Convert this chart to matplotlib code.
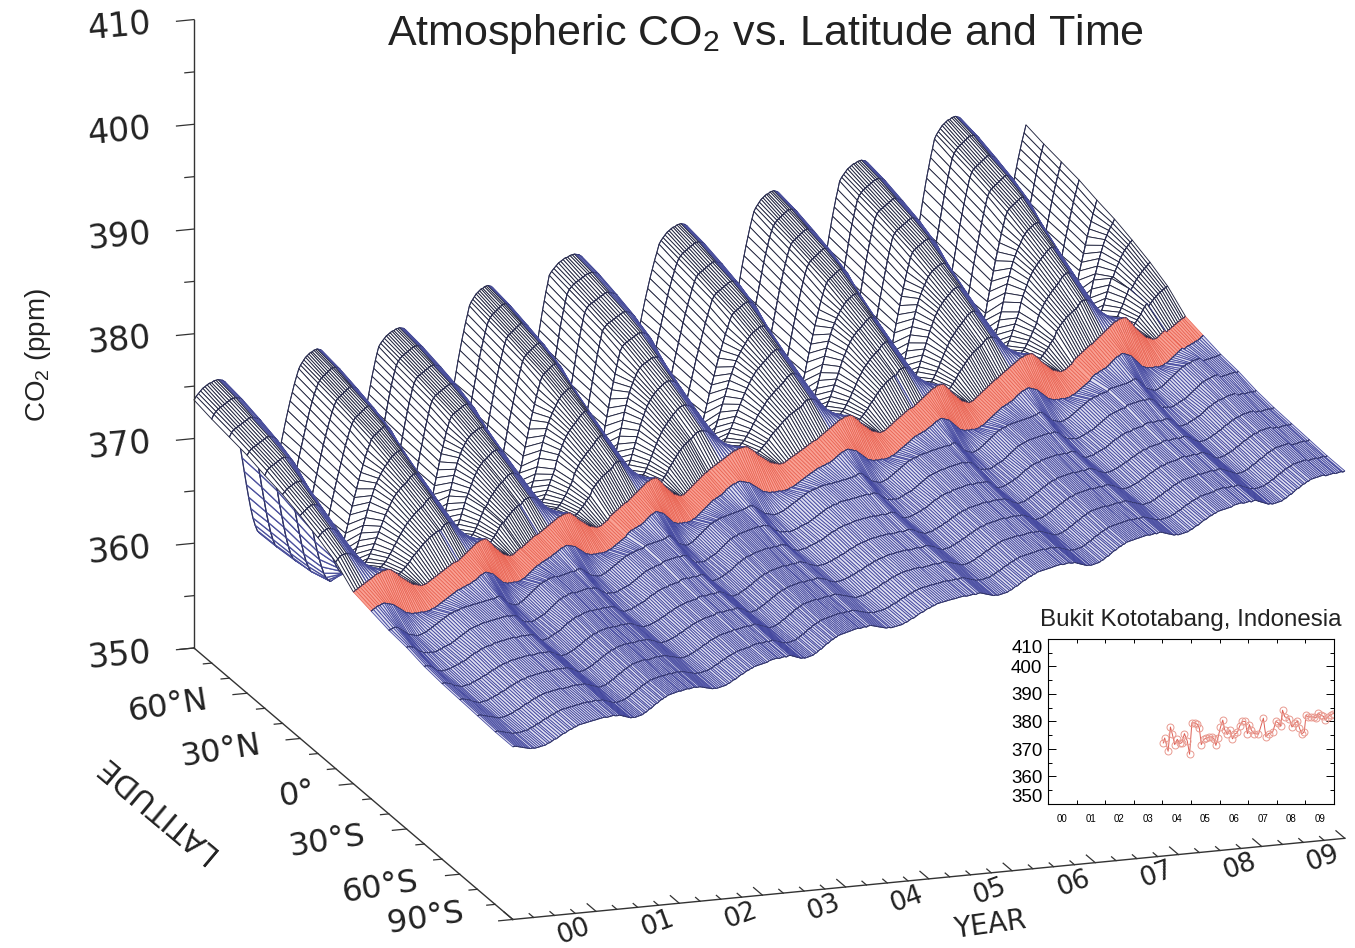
import numpy as np
import matplotlib
matplotlib.use('Agg')
import matplotlib.pyplot as plt
from matplotlib.colors import to_rgba
from mpl_toolkits.mplot3d import proj3d
from mpl_toolkits.mplot3d.art3d import Poly3DCollection

plt.rcParams['font.family'] = ['Liberation Sans', 'DejaVu Sans']
plt.rcParams['mathtext.fontset'] = 'custom'
plt.rcParams['mathtext.rm'] = 'Liberation Sans'
plt.rcParams['mathtext.default'] = 'regular'

latitudes = [90, 80, 70, 60, 50, 40, 30, 20, 10, 0, -10, -20, -30, -40, -50, -60, -70, -80, -90]

# the surface is read as: south pole level at the start of each seasonal cycle,
# the rise inside a cycle, and the height of each latitude above that (48 samples per cycle)
cycle_level = [366.0, 368.0, 370.0, 372.1, 374.2, 376.3, 378.3, 380.4, 382.5, 384.6]
# where each cycle starts on the year axis, ridges are not evenly spaced
cycle_start = [0, 1.26, 2.22, 3.31, 4.27, 5.59, 6.73, 7.76, 8.90, 10.0]
cycle_scale = [0.96, 0.96, 0.88, 1.0, 1.01, 0.99, 1.02, 1.02, 1.15, 0.95]
cycle_rise = [0.00, 0.04, 0.09, 0.13, 0.17, 0.21, 0.26, 0.30, 0.34, 0.38, 0.43, 0.47, 0.51, 0.56, 0.60, 0.64,
              0.68, 0.73, 0.77, 0.81, 0.85, 0.90, 0.94, 0.98, 1.03, 1.07, 1.11, 1.15, 1.20, 1.24, 1.28, 1.32,
              1.37, 1.41, 1.45, 1.50, 1.54, 1.58, 1.62, 1.67, 1.71, 1.75, 1.79, 1.84, 1.88, 1.92, 1.97, 2.01]

season = [
    [8.0, 8.3, 8.5, 8.7, 8.9, 9.0, 9.1, 9.2, 9.2, 9.3, 9.3, 9.3, 9.2, 9.1, 8.9, 8.5, 7.9, 7.1, 6.1, 4.9, 3.6, 2.2, 0.8, -0.6, -2.0, -3.3, -4.5, -5.5, -6.3, -6.9, -7.2, -7.3, -6.7, -5.8, -4.8, -3.8, -2.8, -1.8, -0.8, 0.2, 1.2, 2.2, 3.2, 4.1, 5.0, 5.8, 6.6, 7.3],
    [7.6, 8.0, 8.2, 8.4, 8.5, 8.6, 8.7, 8.8, 8.9, 9.0, 9.0, 9.0, 8.9, 8.8, 8.6, 8.2, 7.6, 6.8, 5.8, 4.7, 3.4, 2.1, 0.7, -0.7, -2.0, -3.3, -4.4, -5.4, -6.2, -6.8, -7.1, -7.2, -6.6, -5.7, -4.7, -3.7, -2.7, -1.7, -0.8, 0.2, 1.2, 2.1, 3.0, 3.9, 4.8, 5.6, 6.3, 7.0],
    [7.3, 7.7, 7.9, 8.0, 8.1, 8.2, 8.3, 8.4, 8.5, 8.6, 8.6, 8.5, 8.4, 8.3, 8.1, 7.7, 7.1, 6.4, 5.5, 4.4, 3.1, 1.8, 0.5, -0.9, -2.1, -3.3, -4.4, -5.3, -6.1, -6.6, -6.9, -7.1, -6.5, -5.6, -4.6, -3.7, -2.8, -1.8, -0.9, 0.1, 1.0, 1.9, 2.8, 3.7, 4.5, 5.3, 6.0, 6.7],
    [7.0, 7.3, 7.5, 7.6, 7.7, 7.8, 7.9, 8.0, 8.1, 8.2, 8.2, 8.1, 8.0, 7.8, 7.5, 7.1, 6.5, 5.7, 4.8, 3.7, 2.5, 1.2, 0.0, -1.2, -2.4, -3.5, -4.5, -5.3, -5.9, -6.4, -6.6, -6.7, -6.2, -5.4, -4.5, -3.6, -2.7, -1.8, -0.9, 0.0, 0.9, 1.8, 2.6, 3.4, 4.2, 5.0, 5.7, 6.4],
    [6.5, 6.9, 7.1, 7.2, 7.3, 7.4, 7.5, 7.6, 7.7, 7.7, 7.6, 7.5, 7.3, 7.0, 6.6, 6.1, 5.4, 4.6, 3.7, 2.7, 1.7, 0.6, -0.5, -1.6, -2.6, -3.5, -4.3, -5.0, -5.5, -5.8, -6.0, -5.9, -5.6, -5.0, -4.2, -3.4, -2.6, -1.7, -0.9, 0.0, 0.8, 1.6, 2.4, 3.2, 3.9, 4.6, 5.3, 5.9],
    [6.1, 6.3, 6.5, 6.6, 6.7, 6.8, 6.9, 6.9, 6.9, 6.8, 6.6, 6.3, 5.9, 5.4, 4.9, 4.3, 3.6, 2.9, 2.2, 1.4, 0.6, -0.2, -1.0, -1.7, -2.3, -2.8, -3.2, -3.5, -3.6, -3.6, -3.4, -3.1, -2.6, -2.0, -1.4, -0.8, -0.1, 0.6, 1.3, 2.0, 2.7, 3.3, 3.9, 4.4, 4.8, 5.2, 5.5, 5.8],
    [5.5, 5.7, 5.8, 6.0, 6.1, 6.2, 6.2, 6.1, 6.0, 5.8, 5.5, 5.2, 4.8, 4.3, 3.8, 3.3, 2.8, 2.2, 1.6, 1.1, 0.6, 0.1, -0.3, -0.7, -1.0, -1.2, -1.4, -1.5, -1.4, -1.3, -1.1, -0.8, -0.4, 0.0, 0.5, 1.0, 1.5, 2.0, 2.5, 3.0, 3.4, 3.8, 4.2, 4.5, 4.8, 5.0, 5.2, 5.4],
    [4.8, 5.0, 5.2, 5.3, 5.4, 5.4, 5.3, 5.2, 5.0, 4.8, 4.5, 4.2, 3.8, 3.4, 3.0, 2.6, 2.3, 1.9, 1.6, 1.3, 1.0, 0.7, 0.4, 0.2, 0.0, -0.1, -0.2, -0.2, -0.1, 0.0, 0.2, 0.4, 0.7, 1.0, 1.3, 1.7, 2.0, 2.4, 2.7, 3.0, 3.3, 3.6, 3.8, 4.0, 4.2, 4.4, 4.5, 4.7],
    [3.9, 4.1, 4.3, 4.4, 4.4, 4.4, 4.3, 4.2, 4.0, 3.8, 3.6, 3.3, 3.1, 2.8, 2.6, 2.3, 2.1, 1.8, 1.6, 1.4, 1.2, 1.0, 0.9, 0.8, 0.7, 0.7, 0.6, 0.6, 0.7, 0.8, 0.9, 1.1, 1.3, 1.5, 1.7, 2.0, 2.2, 2.4, 2.6, 2.8, 3.0, 3.2, 3.3, 3.5, 3.6, 3.7, 3.8, 3.9],
    [2.4, 2.5, 2.6, 2.7, 2.8, 2.9, 3.0, 3.1, 3.2, 3.3, 3.4, 3.5, 3.5, 3.6, 3.6, 3.6, 3.6, 3.5, 3.3, 3.1, 2.9, 2.6, 2.4, 2.2, 2.0, 1.8, 1.6, 1.4, 1.3, 1.2, 1.1, 1.0, 1.0, 1.0, 1.1, 1.2, 1.3, 1.4, 1.5, 1.6, 1.7, 1.8, 1.9, 2.0, 2.1, 2.2, 2.3, 2.3],
    [2.0, 2.1, 2.2, 2.3, 2.3, 2.4, 2.4, 2.3, 2.2, 2.1, 2.0, 1.8, 1.6, 1.4, 1.2, 1.0, 0.8, 0.7, 0.6, 0.5, 0.5, 0.4, 0.4, 0.4, 0.3, 0.3, 0.3, 0.3, 0.4, 0.4, 0.5, 0.6, 0.7, 0.8, 0.9, 1.0, 1.1, 1.2, 1.3, 1.4, 1.5, 1.5, 1.6, 1.6, 1.7, 1.7, 1.8, 1.9],
    [1.6, 1.6, 1.7, 1.7, 1.6, 1.4, 1.2, 1.0, 0.8, 0.6, 0.5, 0.4, 0.3, 0.2, 0.2, 0.2, 0.3, 0.3, 0.4, 0.5, 0.6, 0.7, 0.8, 0.9, 1.0, 1.1, 1.2, 1.3, 1.4, 1.4, 1.5, 1.5, 1.5, 1.6, 1.6, 1.6, 1.6, 1.6, 1.6, 1.6, 1.6, 1.6, 1.6, 1.6, 1.6, 1.6, 1.6, 1.6],
    [1.4, 1.4, 1.3, 1.2, 1.0, 0.8, 0.6, 0.5, 0.3, 0.3, 0.2, 0.2, 0.1, 0.1, 0.1, 0.2, 0.2, 0.3, 0.3, 0.4, 0.4, 0.5, 0.6, 0.7, 0.8, 0.9, 1.0, 1.1, 1.2, 1.3, 1.3, 1.4, 1.4, 1.4, 1.5, 1.5, 1.5, 1.5, 1.5, 1.5, 1.5, 1.5, 1.5, 1.5, 1.5, 1.5, 1.5, 1.4],
    [1.0, 1.0, 0.9, 0.8, 0.6, 0.4, 0.2, 0.1, 0.0, 0.0, 0.0, 0.0, 0.0, 0.1, 0.1, 0.2, 0.2, 0.3, 0.3, 0.4, 0.5, 0.6, 0.7, 0.8, 0.8, 0.9, 1.0, 1.0, 1.1, 1.1, 1.1, 1.1, 1.2, 1.2, 1.2, 1.2, 1.2, 1.2, 1.2, 1.2, 1.2, 1.2, 1.1, 1.1, 1.1, 1.1, 1.0, 1.0],
    [0.8, 0.8, 0.7, 0.6, 0.5, 0.3, 0.2, 0.1, 0.0, -0.1, -0.1, -0.1, -0.1, -0.1, 0.0, 0.0, 0.1, 0.1, 0.2, 0.3, 0.3, 0.4, 0.5, 0.6, 0.6, 0.7, 0.8, 0.8, 0.9, 0.9, 0.9, 1.0, 1.0, 1.0, 1.0, 1.0, 1.0, 1.0, 1.0, 1.0, 1.0, 0.9, 0.9, 0.9, 0.9, 0.9, 0.8, 0.8],
    [0.7, 0.7, 0.6, 0.5, 0.4, 0.3, 0.1, 0.0, -0.1, -0.2, -0.2, -0.2, -0.2, -0.2, -0.1, -0.1, 0.0, 0.0, 0.1, 0.2, 0.2, 0.3, 0.4, 0.5, 0.5, 0.6, 0.7, 0.7, 0.8, 0.8, 0.8, 0.9, 0.9, 0.9, 0.9, 0.9, 0.9, 0.9, 0.9, 0.9, 0.9, 0.8, 0.8, 0.8, 0.8, 0.8, 0.7, 0.7],
    [0.6, 0.6, 0.5, 0.4, 0.3, 0.2, 0.1, 0.0, -0.1, -0.2, -0.3, -0.3, -0.3, -0.3, -0.3, -0.2, -0.2, -0.1, 0.0, 0.0, 0.1, 0.2, 0.3, 0.3, 0.4, 0.5, 0.6, 0.6, 0.7, 0.7, 0.8, 0.8, 0.8, 0.8, 0.8, 0.8, 0.8, 0.8, 0.8, 0.7, 0.7, 0.7, 0.7, 0.7, 0.7, 0.7, 0.6, 0.6],
    [0.5, 0.5, 0.4, 0.3, 0.2, 0.1, 0.0, -0.1, -0.2, -0.2, -0.3, -0.3, -0.3, -0.3, -0.3, -0.3, -0.2, -0.2, -0.1, 0.0, 0.0, 0.1, 0.2, 0.3, 0.3, 0.4, 0.5, 0.5, 0.6, 0.6, 0.7, 0.7, 0.7, 0.7, 0.7, 0.7, 0.7, 0.7, 0.7, 0.7, 0.7, 0.7, 0.7, 0.6, 0.6, 0.6, 0.6, 0.5],
    [0.5, 0.5, 0.4, 0.3, 0.2, 0.1, 0.0, -0.1, -0.2, -0.2, -0.3, -0.3, -0.3, -0.3, -0.3, -0.3, -0.2, -0.2, -0.1, 0.0, 0.0, 0.1, 0.2, 0.3, 0.3, 0.4, 0.5, 0.5, 0.6, 0.6, 0.7, 0.7, 0.7, 0.7, 0.7, 0.7, 0.7, 0.7, 0.7, 0.7, 0.7, 0.7, 0.7, 0.6, 0.6, 0.6, 0.6, 0.5],
]

year_labels = ['00', '01', '02', '03', '04', '05', '06', '07', '08', '09']
lat_ticks = [(60, '60°N', -0.95, 349.5), (30, '30°N', -0.95, 349.5), (0, '0°', -0.67, 349.5), (-30, '30°S', -0.95, 349.5),
             (-60, '60°S', -0.95, 349.5), (-90, '90°S', -1.05, 350.9)]

inset_years = [4.03, 4.08, 4.20, 4.28, 4.35, 4.43, 4.52, 4.61, 4.68, 4.77, 4.87, 4.95, 5.03, 5.13, 5.22, 5.29, 5.36,
               5.45, 5.54, 5.64, 5.73, 5.81, 5.87, 5.94, 6.03, 6.11, 6.18, 6.27, 6.36, 6.45, 6.52, 6.62, 6.71, 6.80,
               6.90, 6.97, 7.04, 7.11, 7.20, 7.36, 7.53, 7.62, 7.71, 7.85, 7.97, 8.05, 8.13, 8.20, 8.28, 8.44, 8.53,
               8.63, 8.72, 8.79, 8.87, 8.96, 9.02, 9.10, 9.19, 9.30, 9.37, 9.45, 9.53, 9.63, 9.70, 9.79, 9.88, 9.98]
inset_co2 = [372.2, 374.0, 369.2, 378.0, 375.3, 371.6, 373.5, 372.0, 372.3, 375.6, 372.9, 368.1, 379.5, 379.5, 379.0,
             377.8, 371.6, 373.5, 374.0, 374.4, 374.4, 373.5, 371.3, 374.0, 377.9, 380.5, 377.0, 375.3, 376.9, 373.7,
             375.3, 376.0, 378.5, 380.1, 380.0, 375.6, 378.9, 376.9, 375.6, 375.4, 381.2, 374.4, 375.6, 376.0, 380.0,
             379.5, 378.3, 384.1, 381.7, 381.0, 378.0, 379.3, 380.1, 377.7, 375.5, 376.2, 382.2, 381.7, 381.7, 381.6,
             381.3, 383.1, 382.3, 381.9, 380.5, 381.7, 382.5, 382.9]

north_color = '#232640'
crest_color = '#4a4f9c'
red_color = '#e8604f'
red_face = '#f9a194'
blue_color = '#4549a0'
blue_face = '#dedef0'
row_color = '#2d3058'
axis_color = '#333333'
text_color = '#222222'

n_cycle = 9
n_col = n_cycle * 48 + 1
years = np.zeros(n_col)
surface = np.zeros((len(latitudes), n_col))
for j in range(n_col):
    c = j // 48
    p = j % 48
    if c < n_cycle:
        years[j] = cycle_start[c] + (cycle_start[c + 1] - cycle_start[c]) * p / 48
    else:
        years[j] = cycle_start[c]
    for r in range(len(latitudes)):
        surface[r, j] = cycle_level[c] + cycle_rise[p] + cycle_scale[(j + 10) // 48] * season[r][p]

fig = plt.figure(figsize=(13.55, 9.48), dpi=100)
ax = fig.add_axes([0, 0, 1, 1], projection='3d', proj_type='ortho', computed_zorder=False)
ax.set_axis_off()
ax.set_box_aspect((878, 994, 656))
ax.view_init(elev=16.75, azim=-108.7)

# painter's order: back row first, far end of each row first
verts = []
faces = []
edges = []
widths = []
for r in range(len(latitudes) - 1):
    lat_a, lat_b = latitudes[r], latitudes[r + 1]
    for j in range(n_col - 2, -1, -1):
        a = (years[j], lat_a, surface[r, j])
        b = (years[j + 1], lat_a, surface[r, j + 1])
        c = (years[j + 1], lat_b, surface[r + 1, j + 1])
        d = (years[j], lat_b, surface[r + 1, j])
        if lat_a > 0:
            face = 'white'
            if surface[r, j + 1] > surface[r, j]:
                col, lw = north_color, 0.65
            else:
                col, lw = crest_color, 0.9
        elif lat_a == 0:
            face, col, lw = red_face, red_color, 0.5
        else:
            face, col, lw = blue_face, blue_color, 0.6
        verts.append([a, b, c, d])
        faces.append(to_rgba(face))
        edges.append(to_rgba(col))
        widths.append(lw)
        for seg in ([a, b], [d, c]):
            verts.append(seg)
            faces.append((0, 0, 0, 0))
            edges.append(to_rgba(row_color))
            widths.append(0.7)

mesh = Poly3DCollection(verts, facecolors=faces, edgecolors=edges, linewidths=widths)
mesh._zsortfunc = lambda zs: 0  # keep the order above, sort is stable
ax.add_collection3d(mesh)

ax.set_xlim(0, 10)
ax.set_ylim(-90, 90)
ax.set_zlim(350, 410)


def to_pixels(x, y, z):
    px, py, _ = proj3d.proj_transform(x, y, z, ax.get_proj())
    return ax.transData.transform((px, py))


# fit the box so the back corner and the year axis land where they are in the picture
W, H = 1355.0, 948.0
side = 948.0
left, bottom = (W - side) / 2, 0.0
for i in range(3):
    ax.set_position([left / W, bottom / H, side / W, side / H])
    ax.apply_aspect()
    p0 = to_pixels(0, 90, 350)
    p1 = to_pixels(10, 90, 350)
    side = side * 832.0 / (p1[0] - p0[0])
    ax.set_position([left / W, bottom / H, side / W, side / H])
    ax.apply_aspect()
    p0 = to_pixels(0, 90, 350)
    left += 194 - p0[0]
    bottom += (H - 648) - p0[1]
ax.set_position([left / W, bottom / H, side / W, side / H])
ax.apply_aspect()


def label3d(x, y, z, s, **kw):
    p = to_pixels(x, y, z)
    fig.text(p[0] / W, p[1] / H, s, family='DejaVu Sans', ha='center', va='center', color=text_color, **kw)


# axes
ax.plot([0, 0], [90, 90], [350, 410], color=axis_color, lw=1.0)
ax.plot([0, 0], [90, -90], [350, 350], color=axis_color, lw=1.0)
ax.plot([0, 10], [-90, -90], [350, 350], color=axis_color, lw=1.0)

for v in range(350, 411, 5):
    size = 0.21 if v % 10 == 0 else 0.11
    ax.plot([-size, 0], [90, 90], [v, v], color=axis_color, lw=0.9)
for v in range(-90, 91, 10):
    size = 0.17 if v % 30 == 0 else 0.1
    ax.plot([-size, 0], [v, v], [350, 350], color=axis_color, lw=0.9)
for q in range(0, 41):
    size = 5 if q % 4 == 0 else 2.5
    ax.plot([q / 4, q / 4], [-90, -90 + size], [350, 350], color=axis_color, lw=0.9)

for v in range(350, 411, 10):
    label3d(-0.9, 90, v, str(v), fontsize=24, rotation=5)
for lat, name, off, height in lat_ticks:
    label3d(off, lat, height, name, fontsize=23, rotation=9)
for i in range(len(year_labels)):
    label3d(i + 0.5, -101, 350, year_labels[i], fontsize=19, rotation=20)

fig.text(155 / W, 1 - 808 / H, 'LATITUDE', fontsize=22, family='DejaVu Sans', ha='center', va='center',
         rotation=140, color=text_color)
fig.text(990 / W, 1 - 925 / H, 'YEAR', fontsize=20, family='DejaVu Sans', ha='center', va='center',
         rotation=8, color=text_color)
fig.text(765 / W, 1 - 34 / H, 'Atmospheric CO$_2$ vs. Latitude and Time', fontsize=31, ha='center', va='center',
         color=text_color)
fig.text(38 / W, 1 - 355 / H, 'CO$_2$ (ppm)', fontsize=20, ha='center', va='center', rotation=90, color=text_color)

# inset
ins = fig.add_axes([1048 / W, 1 - 804 / H, 286 / W, 165 / H])
ins.plot(inset_years, inset_co2, color='#dd5f55', lw=0.7, marker='o', ms=5, mfc='none', mec='#e99a90', mew=0.7)
ins.set_xlim(0, 10)
ins.set_ylim(350, 410)
ins.set_xticks(range(0, 11))
ins.set_xticklabels([])
ins.set_xticks([i + 0.5 for i in range(10)], minor=True)
ins.set_xticklabels(year_labels, minor=True, fontsize=7)
ins.tick_params(axis='x', which='minor', length=0, pad=7)
ins.tick_params(axis='x', which='major', direction='in', top=True, length=3, width=0.7)
ins.set_yticks([360, 370, 380, 390, 400])
ins.set_yticks(range(355, 410, 10), minor=True)
ins.tick_params(axis='y', which='major', direction='in', right=True, length=6, width=0.7, labelsize=13.5, pad=4)
ins.tick_params(axis='y', which='minor', direction='in', right=True, length=3, width=0.7)
ins.text(-0.17, 406.6, '410', fontsize=13.5, ha='right', va='center')
ins.text(-0.17, 352.4, '350', fontsize=13.5, ha='right', va='center')
for s in ins.spines.values():
    s.set_linewidth(0.8)
fig.text(1191 / W, 1 - 620 / H, 'Bukit Kototabang, Indonesia', fontsize=17.4, ha='center', va='center',
         color=text_color)

fig.savefig('out.png', dpi=100)
